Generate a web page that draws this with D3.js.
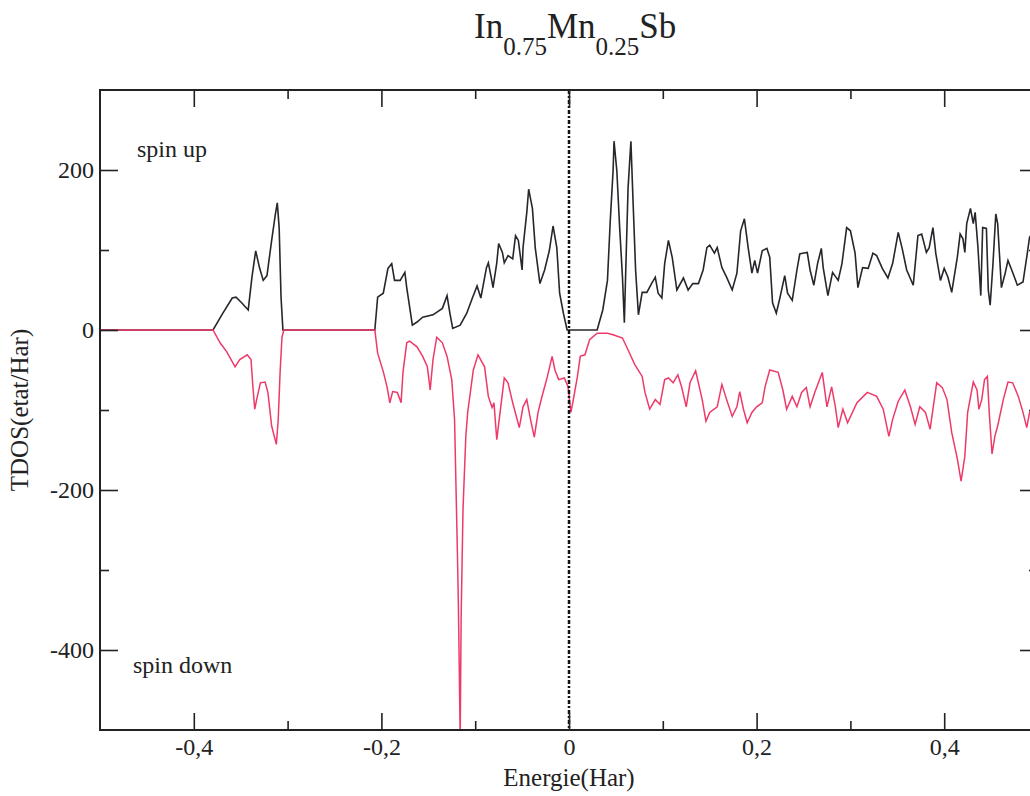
<!DOCTYPE html>
<html>
<head>
<meta charset="utf-8">
<script src="https://cdn.jsdelivr.net/npm/d3@7"></script>
<style>
  html, body { margin: 0; padding: 0; background: #fff; overflow: hidden; }
  svg { display: block; }
  svg text { font-family: "Liberation Serif", "Times New Roman", "DejaVu Serif", serif !important; }
</style>
</head>
<body>
<div id="chart"></div>
<script>
// tick values
const xMajorTicks = [-0.4, -0.2, 0, 0.2, 0.4];
const xMinorTicks = [-0.3, -0.1, 0.1, 0.3];
const yMajorTicks = [200, 0, -200, -400];
const yMinorTicks = [100, -100, -300];

// spin up TDOS  [energie (Har), etat/Har]
const spinUp = [
  [-0.5, 0], [-0.3795, 0], [-0.369, 21], [-0.359, 40], [-0.355, 41], [-0.349, 34], [-0.342, 25],
  [-0.338, 66], [-0.334, 99], [-0.330, 78], [-0.326, 62], [-0.322, 68], [-0.317, 112], [-0.313, 145],
  [-0.311, 159], [-0.309, 128], [-0.307, 41], [-0.305, 0],
  [-0.207, 0], [-0.204, 41], [-0.198, 46], [-0.193, 77], [-0.189, 83], [-0.186, 62], [-0.180, 62],
  [-0.175, 72], [-0.173, 53], [-0.167, 6], [-0.162, 10], [-0.156, 16], [-0.145, 19], [-0.135, 27],
  [-0.130, 43], [-0.127, 21], [-0.124, 2], [-0.116, 6], [-0.109, 21], [-0.103, 40], [-0.098, 55],
  [-0.094, 40], [-0.088, 78], [-0.086, 84], [-0.083, 66], [-0.081, 53], [-0.077, 84], [-0.075, 108],
  [-0.071, 97], [-0.069, 84], [-0.065, 93], [-0.060, 89], [-0.057, 118], [-0.054, 112], [-0.050, 75],
  [-0.049, 103], [-0.045, 147], [-0.043, 176], [-0.039, 152], [-0.036, 103], [-0.031, 58], [-0.026, 75],
  [-0.021, 99], [-0.017, 130], [-0.013, 103], [-0.010, 46], [-0.006, 21], [-0.002, 0],
  [0.030, 0], [0.036, 25], [0.041, 62], [0.044, 137], [0.047, 199], [0.048, 236], [0.051, 199],
  [0.054, 128], [0.057, 66], [0.059, 9], [0.061, 96], [0.063, 178], [0.066, 236], [0.068, 170],
  [0.071, 75], [0.074, 19], [0.078, 47], [0.083, 47], [0.088, 58], [0.092, 66], [0.095, 46],
  [0.099, 40], [0.102, 83], [0.106, 112], [0.110, 91], [0.115, 50], [0.122, 65], [0.127, 50],
  [0.132, 58], [0.138, 58], [0.143, 75], [0.147, 103], [0.150, 106], [0.155, 96], [0.158, 103],
  [0.163, 78], [0.168, 66], [0.174, 50], [0.179, 71], [0.183, 124], [0.187, 139], [0.191, 103],
  [0.195, 71], [0.198, 87], [0.201, 71], [0.206, 99], [0.211, 102], [0.214, 91], [0.217, 34],
  [0.221, 21], [0.225, 41], [0.230, 68], [0.233, 46], [0.238, 37], [0.243, 75], [0.246, 95],
  [0.249, 96], [0.254, 97], [0.257, 75], [0.261, 56], [0.265, 83], [0.269, 102], [0.271, 78],
  [0.276, 43], [0.281, 72], [0.287, 62], [0.291, 83], [0.296, 128], [0.300, 124], [0.305, 96],
  [0.308, 53], [0.313, 78], [0.319, 77], [0.324, 96], [0.328, 93], [0.334, 77], [0.340, 65],
  [0.345, 83], [0.351, 122], [0.355, 103], [0.360, 75], [0.367, 56], [0.372, 118], [0.376, 120],
  [0.381, 97], [0.384, 103], [0.388, 128], [0.391, 96], [0.396, 62], [0.400, 77], [0.404, 66],
  [0.408, 47], [0.414, 91], [0.417, 120], [0.420, 114], [0.422, 97], [0.424, 133], [0.428, 152],
  [0.431, 133], [0.433, 147], [0.436, 103], [0.439, 43], [0.441, 128], [0.445, 127], [0.447, 50],
  [0.449, 31], [0.452, 83], [0.455, 145], [0.457, 133], [0.461, 53], [0.465, 71], [0.468, 87],
  [0.472, 75], [0.478, 56], [0.484, 60], [0.488, 91], [0.491, 116], [0.5, 130]
];

// spin down TDOS  [energie (Har), etat/Har]
const spinDown = [
  [-0.5, 0], [-0.3795, 0], [-0.372, -16], [-0.365, -27], [-0.356, -46], [-0.351, -37], [-0.343, -31],
  [-0.339, -37], [-0.337, -71], [-0.335, -99], [-0.333, -87], [-0.329, -66], [-0.324, -65], [-0.321, -78],
  [-0.317, -120], [-0.312, -143], [-0.310, -112], [-0.308, -53], [-0.306, -9], [-0.304, 0],
  [-0.207, 0], [-0.204, -29], [-0.198, -52], [-0.194, -71], [-0.191, -91], [-0.188, -77], [-0.183, -78],
  [-0.179, -91], [-0.177, -53], [-0.173, -16], [-0.170, -14], [-0.162, -21], [-0.156, -33], [-0.151, -46],
  [-0.148, -75], [-0.145, -37], [-0.141, -9], [-0.135, -16], [-0.130, -33], [-0.125, -62], [-0.122, -112],
  [-0.119, -277], [-0.118, -339], [-0.117, -422], [-0.116, -510], [-0.115, -360], [-0.113, -224],
  [-0.110, -133], [-0.108, -103], [-0.102, -50], [-0.097, -31], [-0.090, -46], [-0.086, -83], [-0.082, -97],
  [-0.080, -91], [-0.077, -137], [-0.074, -108], [-0.069, -60], [-0.065, -66], [-0.060, -91], [-0.053, -122],
  [-0.049, -96], [-0.045, -87], [-0.041, -112], [-0.037, -134], [-0.033, -103], [-0.029, -84], [-0.023, -58],
  [-0.018, -33], [-0.015, -50], [-0.011, -62], [-0.005, -60], [-0.001, -71], [0.002, -103], [0.004, -91],
  [0.009, -58], [0.012, -33], [0.017, -31], [0.022, -12], [0.030, -4], [0.041, -4], [0.047, -6],
  [0.057, -10], [0.063, -25], [0.070, -43], [0.078, -58], [0.081, -78], [0.086, -99], [0.092, -87],
  [0.097, -93], [0.102, -62], [0.106, -60], [0.111, -66], [0.116, -56], [0.120, -71], [0.125, -96],
  [0.129, -66], [0.135, -51], [0.142, -87], [0.146, -114], [0.150, -103], [0.158, -96], [0.163, -68],
  [0.168, -87], [0.174, -108], [0.179, -96], [0.182, -77], [0.186, -99], [0.190, -116], [0.195, -103],
  [0.200, -96], [0.206, -91], [0.209, -71], [0.214, -50], [0.223, -53], [0.228, -75], [0.232, -99],
  [0.238, -83], [0.243, -96], [0.248, -78], [0.253, -72], [0.257, -96], [0.262, -78], [0.270, -53],
  [0.275, -96], [0.280, -71], [0.284, -96], [0.287, -122], [0.292, -99], [0.297, -116], [0.307, -91],
  [0.318, -78], [0.328, -83], [0.335, -99], [0.341, -133], [0.345, -112], [0.351, -89], [0.358, -75],
  [0.364, -96], [0.369, -118], [0.374, -96], [0.380, -103], [0.385, -124], [0.392, -66], [0.398, -72],
  [0.403, -87], [0.408, -128], [0.414, -161], [0.418, -189], [0.422, -158], [0.425, -103], [0.431, -65],
  [0.435, -75], [0.437, -99], [0.440, -87], [0.443, -62], [0.446, -58], [0.448, -103], [0.451, -155],
  [0.454, -133], [0.457, -120], [0.463, -87], [0.468, -65], [0.473, -66], [0.479, -83], [0.484, -103],
  [0.488, -122], [0.491, -103], [0.5, -95]
];

const W = 1030, H = 796;
const plot = { left: 100, right: 1038, top: 90, bottom: 730 };
const serif = '"Liberation Serif", "Times New Roman", serif';

const svg = d3.select('#chart').append('svg')
  .attr('width', W)
  .attr('height', H)
  .attr('font-family', serif);

const x = d3.scaleLinear().domain([-0.5, 0.5]).range([plot.left, plot.right]);
const y = d3.scaleLinear().domain([-500, 300]).range([plot.bottom, plot.top]);

svg.append('clipPath').attr('id', 'clip')
  .append('rect')
  .attr('x', plot.left).attr('y', plot.top)
  .attr('width', plot.right - plot.left).attr('height', plot.bottom - plot.top);

// curves: up first, down drawn on top
const line = d3.line().x(d => x(d[0])).y(d => y(d[1]));

const curves = svg.append('g').attr('clip-path', 'url(#clip)');
curves.append('path')
  .datum(spinUp)
  .attr('d', line)
  .attr('fill', 'none')
  .attr('stroke', '#26262c')
  .attr('stroke-width', 1.6);
curves.append('path')
  .datum(spinDown)
  .attr('d', line)
  .attr('fill', 'none')
  .attr('stroke', '#ee3a68')
  .attr('stroke-width', 1.5);

// Fermi level
svg.append('line')
  .attr('x1', x(0)).attr('x2', x(0))
  .attr('y1', plot.top).attr('y2', plot.bottom)
  .attr('stroke', '#111')
  .attr('stroke-width', 2.5)
  .attr('stroke-dasharray', '4,2,2,2');

// axes with inward ticks
const fmtX = d => String(d).replace('.', ',');
const styleAxis = g => {
  g.attr('font-family', serif).attr('font-size', 24);
  g.select('.domain').remove();
  g.selectAll('.tick line').attr('stroke', '#222').attr('stroke-width', 1.6);
  g.selectAll('.tick text').attr('fill', '#222');
};

svg.append('g')
  .attr('transform', `translate(0,${plot.bottom})`)
  .call(d3.axisBottom(x).tickValues(xMajorTicks).tickSize(-17).tickPadding(8).tickFormat(fmtX))
  .call(styleAxis)
  .selectAll('.tick text').attr('y', 8).attr('dy', '0.71em');
svg.append('g')
  .attr('transform', `translate(0,${plot.bottom})`)
  .call(d3.axisBottom(x).tickValues(xMinorTicks).tickSize(-9).tickFormat(''))
  .call(styleAxis);
svg.append('g')
  .attr('transform', `translate(0,${plot.top})`)
  .call(d3.axisTop(x).tickValues(xMajorTicks).tickSize(-17).tickFormat(''))
  .call(styleAxis);
svg.append('g')
  .attr('transform', `translate(0,${plot.top})`)
  .call(d3.axisTop(x).tickValues(xMinorTicks).tickSize(-9).tickFormat(''))
  .call(styleAxis);

svg.append('g')
  .attr('transform', `translate(${plot.left},0)`)
  .call(d3.axisLeft(y).tickValues(yMajorTicks).tickSize(-18).tickFormat(d => String(d)))
  .call(styleAxis)
  .selectAll('.tick text').attr('x', -6);
svg.append('g')
  .attr('transform', `translate(${plot.left},0)`)
  .call(d3.axisLeft(y).tickValues(yMinorTicks).tickSize(-9).tickFormat(''))
  .call(styleAxis);
svg.append('g')
  .attr('transform', `translate(${plot.right},0)`)
  .call(d3.axisRight(y).tickValues(yMajorTicks).tickSize(-18).tickFormat(''))
  .call(styleAxis);
svg.append('g')
  .attr('transform', `translate(${plot.right},0)`)
  .call(d3.axisRight(y).tickValues(yMinorTicks).tickSize(-9).tickFormat(''))
  .call(styleAxis);

// frame
svg.append('rect')
  .attr('x', plot.left).attr('y', plot.top)
  .attr('width', plot.right - plot.left).attr('height', plot.bottom - plot.top)
  .attr('fill', 'none')
  .attr('stroke', '#222')
  .attr('stroke-width', 2);

// labels
svg.append('text')
  .attr('x', x(0)).attr('y', 786)
  .attr('text-anchor', 'middle')
  .attr('fill', '#222')
  .attr('font-size', 25)
  .text('Energie(Har)');

svg.append('text')
  .attr('transform', `translate(28,${y(-100)}) rotate(-90)`)
  .attr('text-anchor', 'middle')
  .attr('fill', '#222')
  .attr('font-size', 25)
  .text('TDOS(etat/Har)');

svg.append('text')
  .attr('x', 137).attr('y', 157)
  .attr('fill', '#222')
  .attr('font-size', 24)
  .text('spin up');

svg.append('text')
  .attr('x', 133).attr('y', 673)
  .attr('fill', '#222')
  .attr('font-size', 24)
  .text('spin down');

// title In0.75Mn0.25Sb
const title = svg.append('text')
  .attr('x', 474).attr('y', 38)
  .attr('fill', '#222')
  .attr('font-size', 35);
title.append('tspan').text('In');
title.append('tspan').attr('dy', 17).attr('font-size', 25).text('0.75');
title.append('tspan').attr('dy', -17).text('Mn');
title.append('tspan').attr('dy', 17).attr('font-size', 25).text('0.25');
title.append('tspan').attr('dy', -17).text('Sb');
</script>
</body>
</html>
